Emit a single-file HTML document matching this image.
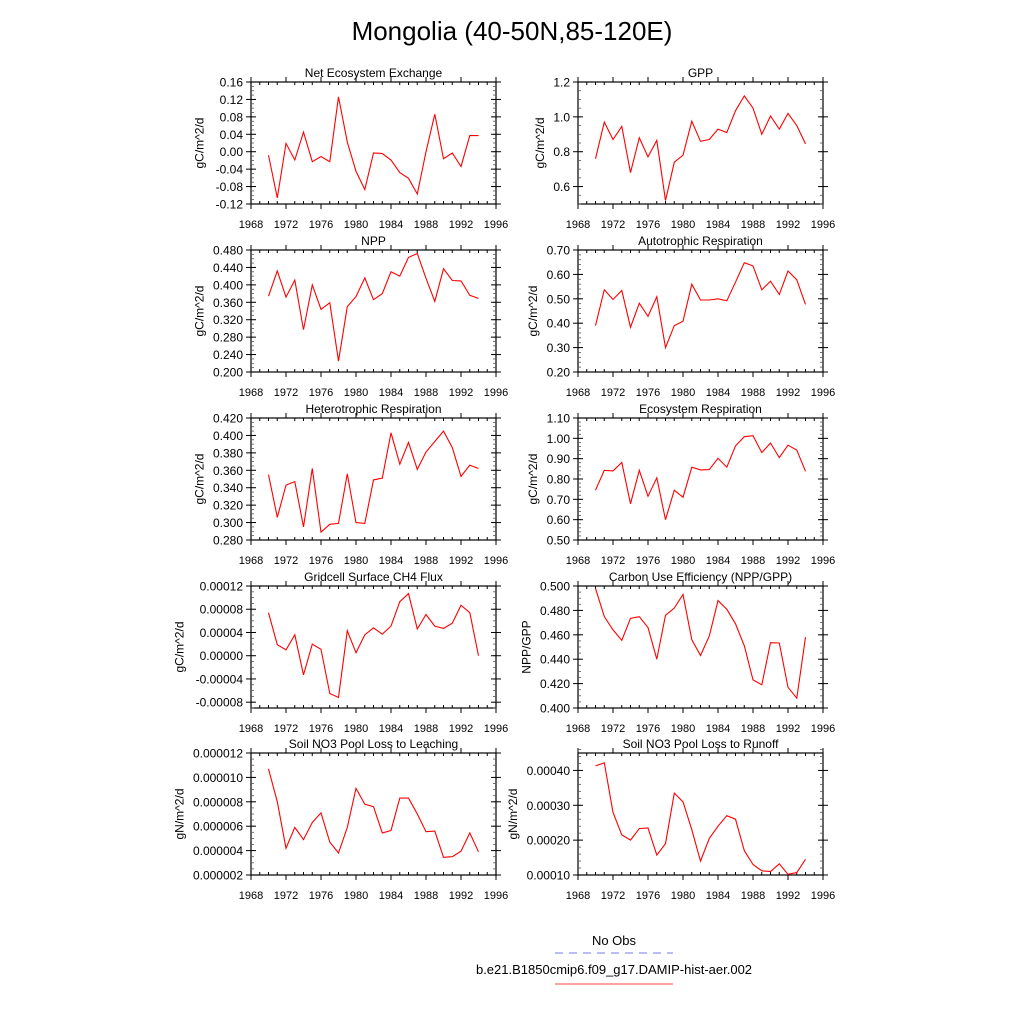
<!DOCTYPE html>
<html><head><meta charset="utf-8"><style>
html,body{margin:0;padding:0;background:#fff}
svg{display:block;font-family:"Liberation Sans",sans-serif}
</style></head><body>
<svg id="chart" width="1024" height="1024" viewBox="0 0 1024 1024">
<text x="512" y="40" text-anchor="middle" font-size="26">Mongolia (40-50N,85-120E)</text>
<g>
<text x="614" y="945" text-anchor="middle" font-size="13">No Obs</text>
<line x1="555" y1="953" x2="673" y2="953" stroke="#7777ee" stroke-width="1" stroke-dasharray="8,6"/>
<text x="614" y="974" text-anchor="middle" font-size="13">b.e21.B1850cmip6.f09_g17.DAMIP-hist-aer.002</text>
<line x1="555" y1="984" x2="673" y2="984" stroke="#ff4444" stroke-width="1"/>
</g>
</svg>
<script>
const years = [1970,1971,1972,1973,1974,1975,1976,1977,1978,1979,1980,1981,1982,1983,1984,1985,1986,1987,1988,1989,1990,1991,1992,1993,1994];
const xTicks = [1968,1972,1976,1980,1984,1988,1992,1996];
const neeVals = [-0.008,-0.106,0.019,-0.019,0.045,-0.023,-0.011,-0.023,0.126,0.022,-0.045,-0.087,-0.003,-0.004,-0.019,-0.048,-0.061,-0.097,0.0,0.086,-0.016,-0.003,-0.034,0.037,0.037];
const gppVals = [0.76,0.97,0.87,0.945,0.68,0.88,0.77,0.865,0.52,0.74,0.78,0.975,0.86,0.87,0.93,0.91,1.035,1.12,1.05,0.90,1.005,0.93,1.02,0.95,0.845];
const nppVals = [0.374,0.432,0.372,0.411,0.297,0.400,0.344,0.359,0.225,0.350,0.373,0.416,0.366,0.380,0.430,0.420,0.463,0.472,0.415,0.362,0.437,0.410,0.409,0.376,0.369];
const arVals = [0.39,0.537,0.497,0.534,0.383,0.482,0.428,0.508,0.30,0.39,0.408,0.56,0.495,0.495,0.50,0.492,0.568,0.648,0.635,0.537,0.572,0.518,0.614,0.578,0.477];
const hrVals = [0.355,0.306,0.343,0.347,0.295,0.362,0.289,0.298,0.299,0.356,0.300,0.299,0.349,0.351,0.403,0.367,0.392,0.361,0.381,0.393,0.405,0.386,0.353,0.366,0.362];
const erVals = [0.745,0.843,0.84,0.881,0.678,0.843,0.715,0.806,0.60,0.745,0.71,0.858,0.845,0.846,0.902,0.858,0.963,1.008,1.013,0.93,0.977,0.905,0.966,0.942,0.838];
const ch4Vals = [7.4e-5,1.9e-5,1.0e-5,3.6e-5,-3.3e-5,2.0e-5,1.1e-5,-6.5e-5,-7.2e-5,4.3e-5,0.5e-5,3.6e-5,4.8e-5,3.7e-5,5.1e-5,9.3e-5,10.7e-5,4.6e-5,7.1e-5,5.1e-5,4.7e-5,5.6e-5,8.7e-5,7.4e-5,0.0];
const cueVals = [0.498,0.475,0.464,0.4555,0.4735,0.4748,0.466,0.440,0.476,0.482,0.493,0.456,0.443,0.459,0.488,0.481,0.469,0.451,0.423,0.419,0.4535,0.4533,0.417,0.408,0.458];
const leachVals = [10.7e-6,8.0e-6,4.2e-6,5.9e-6,4.9e-6,6.3e-6,7.1e-6,4.7e-6,3.8e-6,5.9e-6,9.1e-6,7.8e-6,7.6e-6,5.45e-6,5.65e-6,8.3e-6,8.3e-6,7.0e-6,5.55e-6,5.6e-6,3.45e-6,3.5e-6,3.95e-6,5.45e-6,3.9e-6];
const runoffVals = [41.3e-5,42.2e-5,28e-5,21.5e-5,20e-5,23.3e-5,23.5e-5,15.7e-5,19e-5,33.5e-5,31e-5,23e-5,14e-5,20.5e-5,24e-5,27e-5,26e-5,17e-5,13e-5,11.2e-5,11e-5,13.2e-5,10.2e-5,10.7e-5,14.5e-5];
const neeTicks = ["0.16","0.12","0.08","0.04","0.00","-0.04","-0.08","-0.12"];
const gppTicks = ["1.2","1.0","0.8","0.6"];
const nppTicks = ["0.480","0.440","0.400","0.360","0.320","0.280","0.240","0.200"];
const arTicks = ["0.70","0.60","0.50","0.40","0.30","0.20"];
const hrTicks = ["0.420","0.400","0.380","0.360","0.340","0.320","0.300","0.280"];
const erTicks = ["1.10","1.00","0.90","0.80","0.70","0.60","0.50"];
const ch4Ticks = ["0.00012","0.00008","0.00004","0.00000","-0.00004","-0.00008"];
const cueTicks = ["0.500","0.480","0.460","0.440","0.420","0.400"];
const leachTicks = ["0.000012","0.000010","0.000008","0.000006","0.000004","0.000002"];
const runoffTicks = ["0.00040","0.00030","0.00020","0.00010"];

const NS="http://www.w3.org/2000/svg";
const svg=document.getElementById('chart');
function mk(tag,attrs,parent){const e=document.createElementNS(NS,tag);for(const k in attrs)e.setAttribute(k,attrs[k]);parent.appendChild(e);return e;}
const panels=[
 {id:'nee',title:'Net Ecosystem Exchange',yl:'gC/m^2/d',vals:neeVals,ticks:neeTicks,min:-0.12,max:0.16,minor:0.01,col:0,row:0},
 {id:'gpp',title:'GPP',yl:'gC/m^2/d',vals:gppVals,ticks:gppTicks,min:0.5,max:1.2,minor:0.05,col:1,row:0},
 {id:'npp',title:'NPP',yl:'gC/m^2/d',vals:nppVals,ticks:nppTicks,min:0.2,max:0.48,minor:0.01,col:0,row:1},
 {id:'ar',title:'Autotrophic Respiration',yl:'gC/m^2/d',vals:arVals,ticks:arTicks,min:0.2,max:0.7,minor:0.02,col:1,row:1},
 {id:'hr',title:'Heterotrophic Respiration',yl:'gC/m^2/d',vals:hrVals,ticks:hrTicks,min:0.28,max:0.42,minor:0.005,col:0,row:2},
 {id:'er',title:'Ecosystem Respiration',yl:'gC/m^2/d',vals:erVals,ticks:erTicks,min:0.5,max:1.1,minor:0.02,col:1,row:2},
 {id:'ch4',title:'Gridcell Surface CH4 Flux',yl:'gC/m^2/d',vals:ch4Vals,ticks:ch4Ticks,min:-0.00009,max:0.00012,minor:0.00001,col:0,row:3},
 {id:'cue',title:'Carbon Use Efficiency (NPP/GPP)',yl:'NPP/GPP',vals:cueVals,ticks:cueTicks,min:0.4,max:0.5,minor:0.005,col:1,row:3},
 {id:'leach',title:'Soil NO3 Pool Loss to Leaching',yl:'gN/m^2/d',vals:leachVals,ticks:leachTicks,min:0.000002,max:0.000012,minor:0.0000005,col:0,row:4},
 {id:'runoff',title:'Soil NO3 Pool Loss to Runoff',yl:'gN/m^2/d',vals:runoffVals,ticks:runoffTicks,min:0.0001,max:0.00045,minor:0.00002,col:1,row:4}
];
const colX=[251,578], W=245, rowY=[82,250,418,586,753], H=122;
panels.forEach(p=>{
  const L=colX[p.col], T=rowY[p.row], R=L+W, B=T+H;
  const g=mk('g',{},svg);
  
  
  const xs=y=>L+(y-1968)/(1996-1968)*W;
  const ys=v=>B-(v-p.min)/(p.max-p.min)*H;
  const t=mk('text',{x:(L+R)/2,y:T-5,'text-anchor':'middle','font-size':12},g); t.textContent=p.title;
  
  
  const fr=mk('rect',{x:L,y:T,width:W,height:H,fill:'none',stroke:'#000','stroke-width':1.2},g);
  
  
  // x ticks
  for(let yr=1968;yr<=1996;yr++){
    const x=xs(yr), maj=(yr%4===0);
    mk('line',{x1:x,y1:B,x2:x,y2:maj?B+5:B-3,stroke:'#000','stroke-width':1},g);
    mk('line',{x1:x,y1:T,x2:x,y2:maj?T-5:T+3,stroke:'#000','stroke-width':1},g);
  }
  xTicks.forEach(yr=>{const tl=mk('text',{x:xs(yr),y:B+24,'text-anchor':'middle','font-size':11},g);tl.textContent=yr;
    
    });
  // minor y ticks
  const n=Math.round((p.max-p.min)/p.minor);
  for(let i=0;i<=n;i++){const y=ys(p.min+i*p.minor);
    mk('line',{x1:L,y1:y,x2:L+3,y2:y,stroke:'#555','stroke-width':0.8},g);
    mk('line',{x1:R,y1:y,x2:R-3,y2:y,stroke:'#555','stroke-width':0.8},g);}
  // major y ticks
  p.ticks.forEach(s=>{const v=parseFloat(s),y=ys(v);
    mk('line',{x1:L-5,y1:y,x2:L+5,y2:y,stroke:'#000','stroke-width':1},g);
    mk('line',{x1:R-5,y1:y,x2:R+5,y2:y,stroke:'#000','stroke-width':1},g);
    const tl=mk('text',{x:L-8,y:y+4.5,'text-anchor':'end','font-size':12},g);tl.textContent=s;
    
    });
  // y title
  const maxLen=Math.max(...p.ticks.map(s=>s.length));
  const tx=L-14-maxLen*6.7;
  const yt=mk('text',{x:tx,y:(T+B)/2,'text-anchor':'middle','font-size':12,transform:`rotate(-90 ${tx} ${(T+B)/2})`},g);yt.textContent=p.yl;
  
  
  const pts=p.vals.map((v,i)=>xs(years[i]).toFixed(1)+','+ys(v).toFixed(1)).join(' ');
  const ln=mk('polyline',{points:pts,fill:'none',stroke:'#ff0000','stroke-width':1.1},g);
  
  
});
</script>
</body></html>
